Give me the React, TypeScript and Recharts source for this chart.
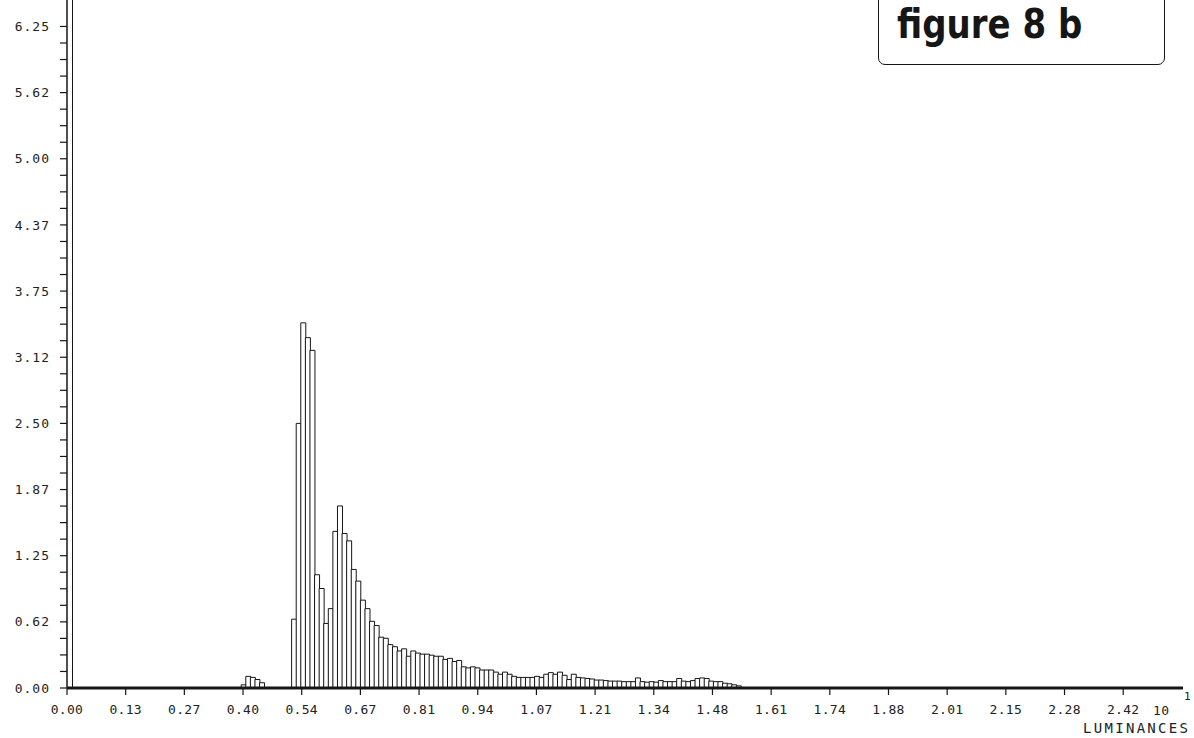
import React from "react";
import { BarChart, Bar, XAxis, YAxis } from "recharts";

// x axis (luminance) tick labels, as printed
const xTickLabels = [
  "0.00", "0.13", "0.27", "0.40", "0.54", "0.67", "0.81", "0.94", "1.07", "1.21",
  "1.34", "1.48", "1.61", "1.74", "1.88", "2.01", "2.15", "2.28", "2.42",
];
// y axis tick labels (one every 4 minor ticks)
const yTickLabels = [
  "0.00", "0.62", "1.25", "1.87", "2.50", "3.12", "3.75", "4.37", "5.00", "5.62", "6.25",
];

// histogram, 256 bins over 0..2.69 ; only the populated bins are listed
const firstBin = 38;
const freq = [
  0.03, 0.11, 0.10, 0.08, 0.05, // 38-42
  0, 0, 0, 0, 0, 0, // 43-48
  0.65, 2.50, 3.45, 3.31, 3.19, 1.07, 0.94, 0.61, 0.75, 1.48, // 49-58
  1.72, 1.46, 1.39, 1.12, 1.01, 0.83, 0.75, 0.63, 0.59, 0.48, // 59-68
  0.47, 0.41, 0.39, 0.35, 0.37, 0.30, 0.35, 0.33, 0.32, 0.32, // 69-78
  0.31, 0.30, 0.30, 0.27, 0.28, 0.25, 0.26, 0.20, 0.19, 0.20, // 79-88
  0.19, 0.17, 0.17, 0.17, 0.15, 0.13, 0.15, 0.13, 0.11, 0.10, // 89-98
  0.10, 0.10, 0.10, 0.11, 0.10, 0.13, 0.145, 0.13, 0.15, 0.12, // 99-108
  0.08, 0.13, 0.10, 0.095, 0.09, 0.085, 0.075, 0.075, 0.07, 0.065, // 109-118
  0.065, 0.065, 0.06, 0.06, 0.06, 0.095, 0.06, 0.055, 0.06, 0.055, // 119-128
  0.07, 0.06, 0.06, 0.06, 0.09, 0.065, 0.06, 0.07, 0.09, 0.095, // 129-138
  0.09, 0.065, 0.06, 0.06, 0.045, 0.04, 0.03, 0.02, // 139-146
];

const STEP = 2.42 / 18;
const BIN_W = (STEP * 20) / 256;
const X_MAX = 2.557;
const Y_MAX = 6.5;

const data = freq.map((v, i) => ({ lum: (firstBin + i + 0.5) * BIN_W, pct: v }));
const xTicks = xTickLabels.map((_, i) => i * STEP);
const yTicks = Array.from({ length: (yTickLabels.length - 1) * 4 + 1 }, (_, i) => i * 0.15625);

const INK = "#161616";
const mono = "'DejaVu Sans Mono', 'Liberation Mono', monospace";

export default function App() {
  return (
    <div style={{ position: "relative", width: 1194, height: 738, overflow: "hidden", background: "#fff" }}>
      <style>{"body{margin:0}"}</style>
      <BarChart
        width={1194}
        height={738}
        data={data}
        margin={{ top: 0, right: 11, bottom: 0, left: 0 }}
        barCategoryGap={0}
        barGap={0}
      >
        <XAxis
          dataKey="lum"
          type="number"
          domain={[0, X_MAX]}
          allowDataOverflow
          ticks={xTicks}
          interval={0}
          height={50}
          tickSize={7}
          tickMargin={10}
          tickFormatter={(_v: number, i: number) => xTickLabels[i]}
          axisLine={{ stroke: INK, strokeWidth: 3 }}
          tickLine={{ stroke: INK, strokeWidth: 1.2 }}
          tick={{ fontFamily: mono, fontSize: 13, fill: "#222", letterSpacing: 0.3 }}
        />
        <YAxis
          type="number"
          domain={[0, Y_MAX]}
          allowDataOverflow
          ticks={yTicks}
          interval={0}
          width={67}
          tickSize={7}
          tickMargin={10}
          tickFormatter={(_v: number, i: number) => (i % 4 === 0 ? yTickLabels[i / 4] : "")}
          axisLine={{ stroke: INK, strokeWidth: 1.5 }}
          tickLine={{ stroke: INK, strokeWidth: 1.2 }}
          tick={{ fontFamily: mono, fontSize: 13, fill: "#222", letterSpacing: 1 }}
        />
        <Bar dataKey="pct" fill="#fff" stroke={INK} strokeWidth={1} isAnimationActive={false} />
      </BarChart>

      {/* second (inner) frame line of the y axis */}
      <div style={{ position: "absolute", left: 72, top: 0, width: 0, height: 688, borderLeft: `1.2px solid ${INK}` }} />

      {/* axis scale note */}
      <div style={{ position: "absolute", left: 1153, top: 703, fontFamily: mono, fontSize: 13, color: "#222", letterSpacing: 0.3 }}>10</div>
      <div style={{ position: "absolute", left: 1184, top: 690, fontFamily: mono, fontSize: 11, color: "#222" }}>1</div>
      <div style={{ position: "absolute", left: 1083, top: 720, fontFamily: mono, fontSize: 14, color: "#222", letterSpacing: 2.3 }}>LUMINANCES</div>

      {/* title box */}
      <div
        style={{
          position: "absolute",
          left: 878,
          top: -12,
          width: 287,
          height: 77,
          border: `1.5px solid ${INK}`,
          borderRadius: 7,
          boxSizing: "border-box",
        }}
      />
      <div
        style={{
          position: "absolute",
          left: 897,
          top: 1,
          fontFamily: "'DejaVu Sans', sans-serif",
          fontWeight: 700,
          fontSize: 40,
          lineHeight: "47px",
          color: INK,
          whiteSpace: "nowrap",
          transform: "scaleX(0.85)",
          transformOrigin: "left top",
        }}
      >
        figure 8 b
      </div>
    </div>
  );
}
